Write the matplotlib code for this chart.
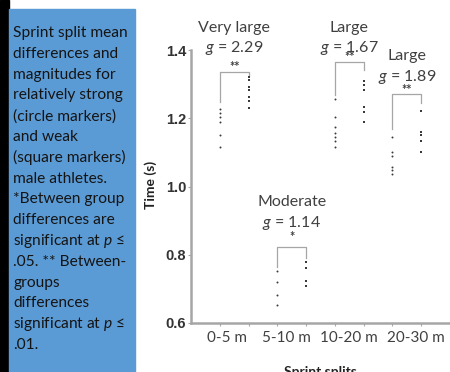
import matplotlib
matplotlib.use("Agg")
import matplotlib.pyplot as plt
from matplotlib.patches import Rectangle

plt.rcParams['font.family'] = ['Lato', 'DejaVu Sans']
plt.rcParams['mathtext.fontset'] = 'custom'
plt.rcParams['mathtext.it'] = 'Lato:italic'
plt.rcParams['mathtext.rm'] = 'Lato'

# data
cats = ['0-5 m', '5-10 m', '10-20 m', '20-30 m']
strong = [[1.226, 1.215, 1.203, 1.190, 1.151, 1.117],
          [0.751, 0.719, 0.683, 0.653],
          [1.256, 1.203, 1.174, 1.158, 1.145, 1.132, 1.117],
          [1.146, 1.102, 1.088, 1.058, 1.049, 1.037]]
weak = [[1.322, 1.312, 1.293, 1.283, 1.261, 1.251, 1.229],
        [0.780, 0.761, 0.722, 0.707],
        [1.310, 1.297, 1.283, 1.232, 1.219, 1.190],
        [1.222, 1.161, 1.151, 1.132, 1.102]]
magnitudes = ['Very large', 'Moderate', 'Large', 'Large']
g_values = ['2.29', '1.14', '1.67', '1.89']
stars = ['**', '*', '**', '**']

caption = ['Sprint split mean', 'differences and', 'magnitudes for',
           'relatively strong', '(circle markers)', 'and weak',
           '(square markers)', 'male athletes.', '*Between group',
           'differences are', 'significant at $p$ ≤',
           '.05. ** Between-', 'groups', 'differences',
           'significant at $p$ ≤', '.01.']

W, H = 450, 372
fig = plt.figure(figsize=(4.5, 3.72), dpi=100)

# left side strip + blue caption box
fig.patches.append(Rectangle((0, 0), 9 / W, 1, transform=fig.transFigure,
                             color='black', zorder=0))
fig.patches.append(Rectangle((9 / W, 0), 126 / W, 1 - 9 / H,
                             transform=fig.transFigure, color='#5b9bd5', zorder=0))
for i, line in enumerate(caption):
    ypx = 33 + i * 20.8
    fig.text(13 / W, 1 - ypx / H, line, fontsize=11.2, color='#141414',
             va='center', ha='left')

ax = fig.add_axes([191 / W, 1 - 323 / H, 259 / W, 273 / H])
gray = '#a6a6a6'
txt = '#404040'

for i in range(len(cats)):
    xs = 2 * i + 1
    ax.scatter([xs] * len(strong[i]), strong[i], s=2, marker='o',
               color='#3a3a3a', linewidths=0, zorder=3)
    ax.scatter([xs + 1] * len(weak[i]), weak[i], s=2, marker='s',
               color='#3a3a3a', linewidths=0, zorder=3)

# brackets: (left bottom, top, right bottom, star y, mag y, g y)
brackets = [(1.249, 1.336, 1.325, 1.350, 1.464, 1.406),
            (0.765, 0.822, 0.790, 0.851, 0.955, 0.892),
            (1.268, 1.366, 1.341, 1.380, 1.464, 1.405),
            (1.168, 1.271, 1.246, 1.283, 1.382, 1.322)]
for i, (lb, top, rb, sy, my, gy) in enumerate(brackets):
    x0 = 2 * i + 1
    x1 = x0 + 1
    ax.plot([x0, x0, x1, x1], [lb, top, top, rb], color=gray, lw=0.9,
            clip_on=False, zorder=2)
    xm = x0 + 0.5
    ax.text(xm, sy, stars[i], ha='center', va='center', fontsize=9,
            color=txt, fontweight='bold')
    ax.text(xm, my, magnitudes[i], ha='center', va='center', fontsize=11.5,
            color=txt)
    ax.text(xm, gy, '$g$ = ' + g_values[i], ha='center', va='center',
            fontsize=11.5, color=txt)

ax.set_xlim(0, 9)
ax.set_ylim(0.6, 1.4)
ax.set_yticks([0.6, 0.8, 1.0, 1.2, 1.4])
ax.set_yticklabels(['0.6', '0.8', '1.0', '1.2', '1.4'], fontweight='bold',
                   fontsize=10.5, color='#333333', family=['Liberation Sans'])
ax.set_xticks(range(1, 9))
ax.set_xticklabels([])
ax.tick_params(axis='both', color=gray, length=2.5, width=0.8, pad=1)
for s in ['top', 'right']:
    ax.spines[s].set_visible(False)
for s in ['left', 'bottom']:
    ax.spines[s].set_color(gray)
    ax.spines[s].set_linewidth(1.8)

label_pos = [1.26, 3.30, 5.50, 7.80]
for p, c in zip(label_pos, cats):
    ax.text(p, -0.055, c, transform=ax.get_xaxis_transform(), ha='center',
            va='center', fontsize=11, color=txt)

fig.text(150.7 / W, 1 - 185 / H, 'Time (s)', rotation=90, ha='center',
         va='center', fontsize=10, fontweight='bold', color='#222222')
fig.text(320 / W, 1 - 366 / H, 'Sprint splits', ha='center', va='top',
         fontsize=10, fontweight='bold', color='#222222')

fig.savefig('out.png', dpi=100)
